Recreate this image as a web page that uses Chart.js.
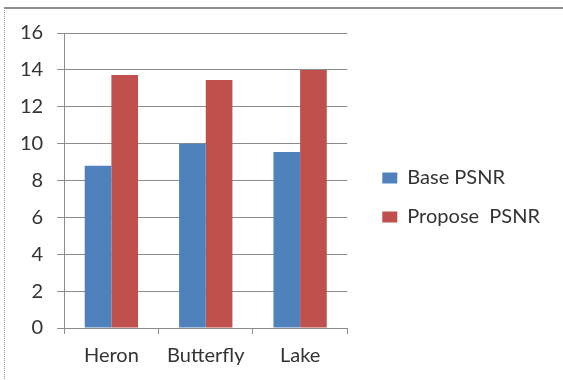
<!DOCTYPE html>
<html>
<head>
<meta charset="utf-8">
<script src="https://cdn.jsdelivr.net/npm/chart.js@4"></script>
<style>
  body { margin: 0; background: #fff; }
  #frame { position: absolute; left: 4px; top: 7px; width: 570px; height: 380px;
    border-top: 2px solid #8e8e8e; border-left: 1px dotted #9a9a9a; }
  #psnrChart { position: absolute; left: 0; top: 0; }
</style>
</head>
<body>
<div id="frame"></div>
<canvas id="psnrChart" width="563" height="380"></canvas>
<script>
const images = ['Heron', 'Butterfly', 'Lake'];
const basePsnr = [8.8, 10.0, 9.55];
const proposePsnr = [13.72, 13.45, 14.0];
const yTicks = [0, 2, 4, 6, 8, 10, 12, 14, 16];

const gridGray = '#8c8c8c';
const textGray = '#333333';

// nudge the legend a little to the right of the plot, like the original
const legendShift = {
  id: 'legendShift',
  afterLayout(chart) {
    chart.legend.left += 16;
    chart.legend.right += 16;
    chart.legend.top -= 8;
    chart.legend.bottom -= 8;
  }
};

new Chart(document.getElementById('psnrChart'), {
  type: 'bar',
  data: {
    labels: images,
    datasets: [
      { label: 'Base PSNR', data: basePsnr, backgroundColor: '#4f81bd' },
      { label: 'Propose  PSNR', data: proposePsnr, backgroundColor: '#c0504d' }
    ]
  },
  options: {
    responsive: false,
    animation: false,
    categoryPercentage: 0.565,
    barPercentage: 1,
    layout: { padding: { top: 33, left: 6, bottom: 2, right: 29 } },
    plugins: {
      tooltip: { enabled: false },
      legend: {
        position: 'right',
        maxWidth: 300,
        labels: { boxWidth: 15, boxHeight: 11, padding: 19, color: textGray,
          font: { family: 'Lato', size: 20 } }
      }
    },
    scales: {
      x: {
        grid: { offset: true, drawOnChartArea: false, tickLength: 6, color: gridGray },
        border: { color: gridGray },
        ticks: { color: textGray, padding: 10, font: { family: 'Lato', size: 20 } }
      },
      y: {
        min: 0, max: 16,
        afterBuildTicks: axis => { axis.ticks = yTicks.map(v => ({ value: v })); },
        grid: { color: gridGray, tickLength: 7 },
        border: { color: gridGray },
        ticks: { color: textGray, padding: 14, font: { family: 'Lato', size: 20 } }
      }
    }
  },
  plugins: [legendShift]
});
</script>
</body>
</html>
